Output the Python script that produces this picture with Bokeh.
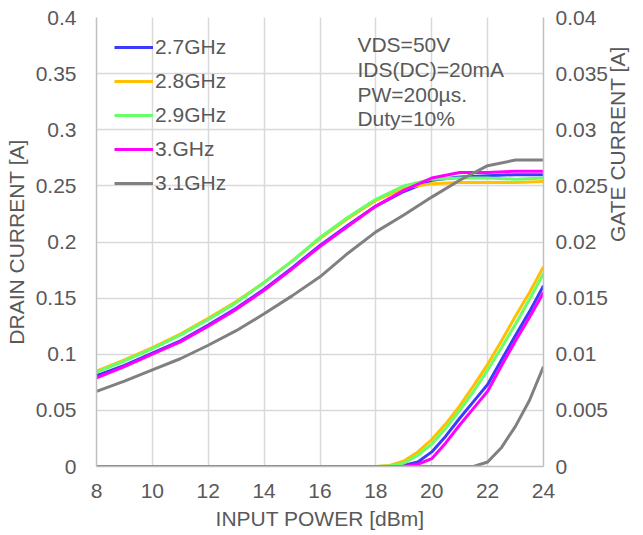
import math
from bokeh.plotting import figure
from bokeh.models import (Range1d, LinearAxis, Legend, LegendItem, Label,
                          FixedTicker, CustomJSTickFormatter)
from bokeh.embed import file_html
from bokeh.resources import INLINE

# ---------------- data ----------------
freqs = ["2.7GHz", "2.8GHz", "2.9GHz", "3.GHz", "3.1GHz"]
colors = ["#3b3bff", "#ffc000", "#66ff66", "#ff00ff", "#808080"]

pin_drain = [8, 9, 10, 11, 12, 13, 14, 15, 16, 17, 18, 19, 20, 21, 22, 23, 24]
drain_27 = [0.081, 0.090, 0.101, 0.112, 0.126, 0.141, 0.158, 0.177, 0.197, 0.215, 0.232, 0.245, 0.255, 0.258, 0.259, 0.260, 0.260]
drain_28 = [0.085, 0.095, 0.106, 0.118, 0.132, 0.147, 0.164, 0.183, 0.203, 0.221, 0.237, 0.248, 0.252, 0.253, 0.253, 0.253, 0.254]
drain_29 = [0.084, 0.094, 0.105, 0.117, 0.131, 0.146, 0.164, 0.183, 0.204, 0.222, 0.238, 0.250, 0.256, 0.257, 0.257, 0.256, 0.257]
drain_30 = [0.079, 0.089, 0.100, 0.111, 0.125, 0.140, 0.157, 0.176, 0.196, 0.214, 0.232, 0.246, 0.257, 0.262, 0.262, 0.263, 0.263]
drain_31 = [0.067, 0.076, 0.086, 0.096, 0.108, 0.121, 0.136, 0.152, 0.169, 0.190, 0.209, 0.224, 0.240, 0.255, 0.268, 0.273, 0.273]

pin_gate = [8, 16, 18, 18.5, 19, 19.5, 20, 20.5, 21, 21.5, 22, 22.5, 23, 23.5, 24]
gate_27 = [0, 0, 0, 0, 0.0001, 0.0004, 0.0013, 0.0027, 0.0043, 0.0058, 0.0073, 0.0095, 0.0117, 0.0138, 0.0161]
gate_28 = [0, 0, 0, 0.0001, 0.0005, 0.0013, 0.0024, 0.0038, 0.0054, 0.0072, 0.0091, 0.0112, 0.0134, 0.0155, 0.0178]
gate_29 = [0, 0, 0, 0.00005, 0.0003, 0.0010, 0.0020, 0.0034, 0.0050, 0.0067, 0.0086, 0.0106, 0.0127, 0.0149, 0.0172]
gate_30 = [0, 0, 0, 0, 0, 0.0002, 0.0007, 0.0021, 0.0037, 0.0052, 0.0067, 0.0090, 0.0112, 0.0133, 0.0155]
gate_31 = [0, 0, 0, 0, 0, 0, 0, 0, 0, 0, 0.0004, 0.0017, 0.0036, 0.0059, 0.0089]

x_ticks = [8, 10, 12, 14, 16, 18, 20, 22, 24]
drain_ticks = [0, 0.05, 0.1, 0.15, 0.2, 0.25, 0.3, 0.35, 0.4]
gate_ticks = [0, 0.005, 0.01, 0.015, 0.02, 0.025, 0.03, 0.035, 0.04]
notes = ["VDS=50V", "IDS(DC)=20mA", "PW=200\u00b5s.", "Duty=10%"]

drains = [drain_27, drain_28, drain_29, drain_30, drain_31]
gates = [gate_27, gate_28, gate_29, gate_30, gate_31]

# ---------------- styling ----------------
FONT = "Liberation Sans"
TXT = "#595959"
FS = "21px"

p = figure(width=643, height=535, output_backend="svg", toolbar_location=None,
           x_range=Range1d(8, 24), y_range=Range1d(0, 0.4),
           min_border_left=96, min_border_right=100, min_border_top=17,
           min_border_bottom=69)
p.extra_y_ranges = {"gate": Range1d(0, 0.04)}
p.outline_line_color = None
p.background_fill_color = "white"
p.border_fill_color = "white"

fmt = CustomJSTickFormatter(code="return String(parseFloat(tick.toFixed(4)));")

gax = LinearAxis(y_range_name="gate", ticker=FixedTicker(ticks=gate_ticks), formatter=fmt)
p.add_layout(gax, "right")

for ax in (p.xaxis[0], p.yaxis[0], gax):
    ax.major_tick_line_color = None
    ax.minor_tick_line_color = None
    ax.major_tick_out = 0
    ax.major_tick_in = 0
    ax.minor_tick_out = 0
    ax.minor_tick_in = 0
    ax.axis_line_color = "#bfbfbf"
    ax.axis_line_width = 1.5
    ax.major_label_text_font = FONT
    ax.major_label_text_font_size = FS
    ax.major_label_text_color = TXT
    ax.axis_label_text_font = FONT
    ax.axis_label_text_font_size = FS
    ax.axis_label_text_font_style = "normal"
    ax.axis_label_text_color = TXT

p.xaxis[0].ticker = FixedTicker(ticks=x_ticks)
p.xaxis[0].major_label_standoff = 17
p.xaxis[0].axis_label = "INPUT POWER [dBm]"
p.xaxis[0].axis_label_standoff = 6

p.yaxis[0].ticker = FixedTicker(ticks=drain_ticks)
p.yaxis[0].formatter = fmt
p.yaxis[0].major_label_standoff = 20
p.yaxis[0].axis_label = "DRAIN CURRENT [A]"
p.yaxis[0].axis_label_standoff = 5

gax.major_label_standoff = 12
gax.axis_label = "GATE CURRENT [A]"
gax.axis_label_standoff = 6
try:
    gax.axis_label_orientation = math.pi / 2
except Exception:
    pass

p.xgrid.ticker = FixedTicker(ticks=x_ticks)
p.ygrid.ticker = FixedTicker(ticks=drain_ticks)
for g in (p.xgrid[0], p.ygrid[0]):
    g.grid_line_color = "#d9d9d9"
    g.grid_line_width = 1.5

# ---------------- lines ----------------
items = []
for name, col, d, g in zip(freqs, colors, drains, gates):
    r1 = p.line(pin_drain, d, line_color=col, line_width=3)
    r2 = p.line(pin_gate, g, line_color=col, line_width=3, y_range_name="gate")
    items.append(LegendItem(label=name, renderers=[r1]))

legend = Legend(items=items, location="top_left", margin=0, padding=18,
                glyph_width=39, glyph_height=24, label_height=24, spacing=10,
                label_standoff=2, background_fill_alpha=0, border_line_alpha=0,
                label_text_font=FONT, label_text_font_size=FS,
                label_text_color=TXT)
p.add_layout(legend)

# ---------------- annotation text ----------------
note_y = [0.3757, 0.3535, 0.3312, 0.3098]
for t, yy in zip(notes, note_y):
    p.add_layout(Label(x=17.34, y=yy, text=t, text_font=FONT, text_font_size=FS,
                       text_color=TXT, text_baseline="alphabetic"))

open("out.html", "w").write(file_html(p, INLINE))
